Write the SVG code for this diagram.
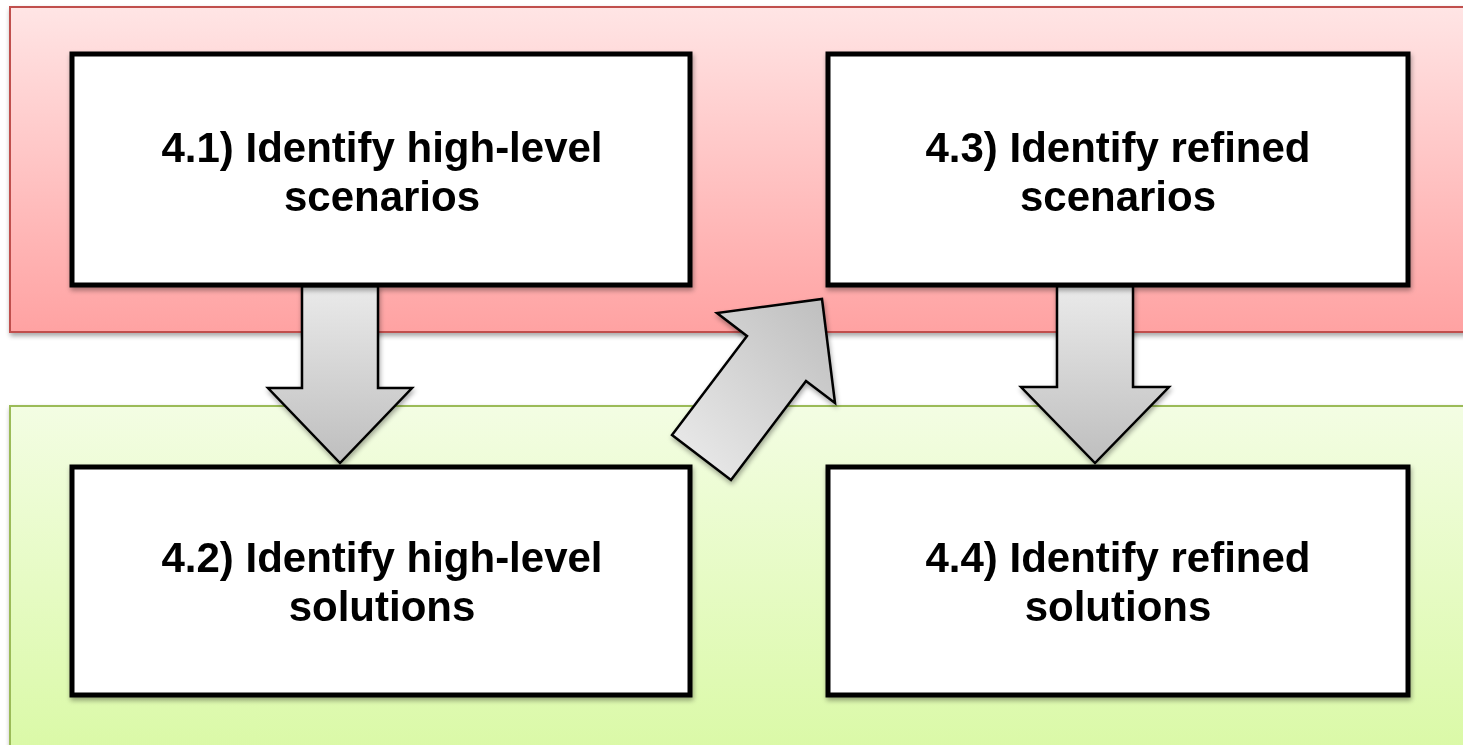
<svg xmlns="http://www.w3.org/2000/svg" width="1463" height="745" viewBox="0 0 1463 745">
  <defs>
    <linearGradient id="redBand" x1="0" y1="0" x2="0" y2="1">
      <stop offset="0" stop-color="#FFE5E5"/>
      <stop offset="1" stop-color="#FFA2A2"/>
    </linearGradient>
    <linearGradient id="greenBand" x1="0" y1="0" x2="0" y2="1">
      <stop offset="0" stop-color="#F3FDE3"/>
      <stop offset="1" stop-color="#D9F9A4"/>
    </linearGradient>
    <linearGradient id="arrowDown" x1="0" y1="0" x2="0" y2="1">
      <stop offset="0" stop-color="#EAEAEA"/>
      <stop offset="1" stop-color="#BEBEBE"/>
    </linearGradient>
    <linearGradient id="arrowDiag" x1="0" y1="1" x2="1" y2="0">
      <stop offset="0" stop-color="#EDEDED"/>
      <stop offset="1" stop-color="#BDBDBD"/>
    </linearGradient>
    <filter id="shadow" x="-10%" y="-10%" width="130%" height="130%">
      <feGaussianBlur in="SourceAlpha" stdDeviation="2.5"/>
      <feOffset dx="1" dy="3" result="b"/>
      <feComponentTransfer><feFuncA type="linear" slope="0.35"/></feComponentTransfer>
      <feMerge><feMergeNode/><feMergeNode in="SourceGraphic"/></feMerge>
    </filter>
  </defs>
  <style>
    .box { fill: #FFFFFF; stroke: #000000; stroke-width: 5; }
    .label { font-family: "Liberation Sans", Arial, sans-serif; font-weight: bold; font-size: 42px; fill: #000000; text-anchor: middle; }
    .arrow { stroke: #000000; stroke-width: 2.5; stroke-linejoin: miter; }
  </style>

  <rect width="1463" height="745" fill="#FFFFFF"/>

  <!-- swim lanes -->
  <g id="lane-scenarios" filter="url(#shadow)">
    <rect x="10" y="7" width="1470" height="325" fill="url(#redBand)" stroke="#C0504D" stroke-width="2"/>
  </g>
  <g id="lane-solutions" filter="url(#shadow)">
    <rect x="10" y="406" width="1470" height="360" fill="url(#greenBand)" stroke="#9BBB59" stroke-width="2"/>
  </g>

  <!-- connectors -->
  <g id="connectors" filter="url(#shadow)">
    <polygon class="arrow" fill="url(#arrowDown)" points="302,286 378,286 378,388 412,388 340,463 268,388 302,388"/>
    <polygon class="arrow" fill="url(#arrowDiag)" points="672,435 731,480 806,381 835,403 822,299 717,313 747,336"/>
    <polygon class="arrow" fill="url(#arrowDown)" points="1057,286 1133,286 1133,387 1169,387 1095,463 1021,387 1057,387"/>
  </g>

  <!-- steps -->
  <g id="step-4-1" filter="url(#shadow)">
    <rect class="box" x="72" y="54" width="618" height="231"/>
    <text class="label" x="382" y="162">4.1) Identify high-level</text>
    <text class="label" x="382" y="211">scenarios</text>
  </g>
  <g id="step-4-3" filter="url(#shadow)">
    <rect class="box" x="828" y="54" width="580" height="231"/>
    <text class="label" x="1118" y="162">4.3) Identify refined</text>
    <text class="label" x="1118" y="211">scenarios</text>
  </g>
  <g id="step-4-2" filter="url(#shadow)">
    <rect class="box" x="72" y="467" width="618" height="228"/>
    <text class="label" x="382" y="572">4.2) Identify high-level</text>
    <text class="label" x="382" y="621">solutions</text>
  </g>
  <g id="step-4-4" filter="url(#shadow)">
    <rect class="box" x="828" y="467" width="580" height="228"/>
    <text class="label" x="1118" y="572">4.4) Identify refined</text>
    <text class="label" x="1118" y="621">solutions</text>
  </g>
</svg>
